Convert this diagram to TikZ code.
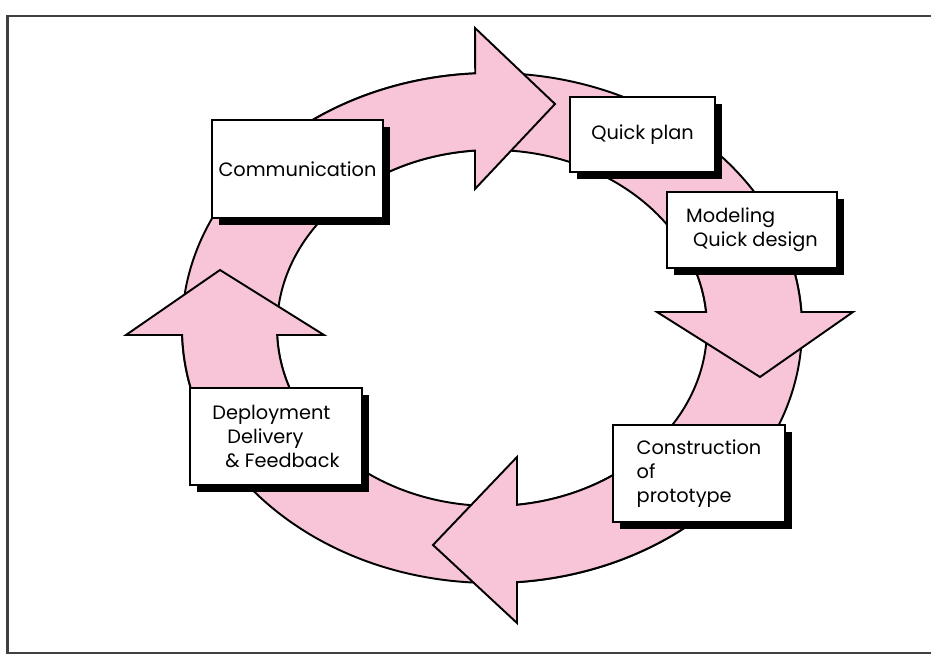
\documentclass[tikz,border=0pt]{standalone}
\usepackage{fontspec}
\setmainfont{Poppins}
\usetikzlibrary{shadows}
\definecolor{ringpink}{RGB}{248,196,216}

\tikzset{
  stage/.style={draw, line width=1.6pt, fill=white, align=left, font=\fontsize{11}{13.6}\selectfont,
    drop shadow={shadow xshift=4pt, shadow yshift=-4pt, fill=black, opacity=1}},
  band/.style={fill=ringpink, draw=black, line width=1.1pt, line join=miter}
}

\begin{document}
\begin{tikzpicture}[x=0.02cm, y=0.02cm]
\useasboundingbox (0,0) rectangle (931,666);
\draw[black!75, line width=1.2pt] (940,650) -- (7.5,650) -- (7.5,13) -- (940,13);

% ring under the arrows
\draw[band, even odd rule] (492,338) ellipse[x radius=310, y radius=255]
  (492,338) ellipse[x radius=215, y radius=178];

% arrows, clockwise
\draw[band] ({492+310*cos(135)},{338+255*sin(135)})
  arc[start angle=135, end angle=93.1, x radius=310, y radius=255]
  -- (475,638) -- (555,562) -- (475,477)
  -- ({492+215*cos(94.54)},{338+178*sin(94.54)})
  arc[start angle=94.54, end angle=135, x radius=215, y radius=178] -- cycle;
\draw[band] ({492+310*cos(30)},{338+255*sin(30)})
  arc[start angle=30, end angle=3.6, x radius=310, y radius=255]
  -- (853,354) -- (760,289) -- (657,354)
  -- ({492+215*cos(5.16)},{338+178*sin(5.16)})
  arc[start angle=5.16, end angle=30, x radius=215, y radius=178] -- cycle;
\draw[band] ({492+310*cos(-45)},{338+255*sin(-45)})
  arc[start angle=-45, end angle=-85.37, x radius=310, y radius=255]
  -- (517,43) -- (433,121) -- (517,209)
  -- ({492+215*cos(-83.32)},{338+178*sin(-83.32)})
  arc[start angle=-83.32, end angle=-45, x radius=215, y radius=178] -- cycle;
\draw[band] ({492+310*cos(215)},{338+255*sin(215)})
  arc[start angle=215, end angle=181.57, x radius=310, y radius=255]
  -- (126,331) -- (220,396) -- (324,331)
  -- ({492+215*cos(182.25)},{338+178*sin(182.25)})
  arc[start angle=182.25, end angle=215, x radius=215, y radius=178] -- cycle;

% stages
\node[stage, minimum width=3.42cm, minimum height=1.96cm] (comm) at (297.5,497) {Communication};
\node[stage, minimum width=2.9cm, minimum height=1.5cm] (plan) at (642.5,531.5) {Quick plan};
\node[stage, minimum width=3.4cm, minimum height=1.52cm] (model) at (752,436)
  {Modeling\\\hspace*{0.14cm}Quick design};
\node[stage, minimum width=3.44cm, minimum height=1.94cm] (build) at (699,192.5)
  {Construction\\of\\prototype};
\node[stage, minimum width=3.44cm, minimum height=1.94cm] (deploy) at (276,229.5)
  {Deployment\\\hspace*{0.3cm}Delivery\\\hspace*{0.26cm}\& Feedback};
\end{tikzpicture}
\end{document}
